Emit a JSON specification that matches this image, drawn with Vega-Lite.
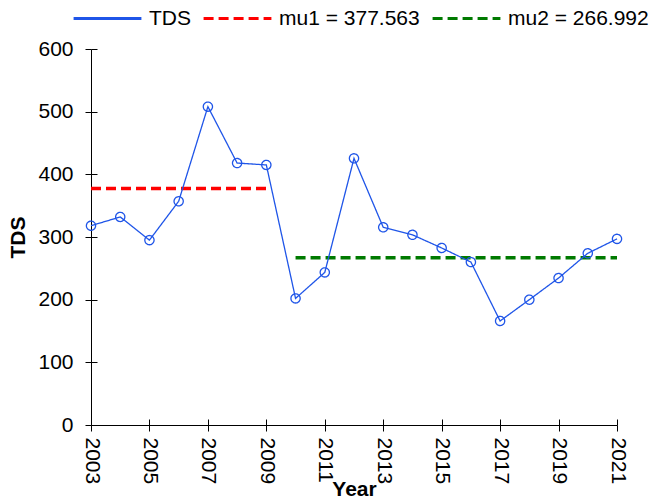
{
  "$schema": "https://vega.github.io/schema/vega-lite/v6.json",
  "width": 526,
  "height": 376,
  "autosize": {"type": "none"},
  "padding": {"left": 91, "top": 49, "right": 32, "bottom": 76},
  "config": {
    "view": {"stroke": null},
    "font": "Liberation Sans",
    "axis": {
      "grid": false,
      "domainColor": "black",
      "tickColor": "black",
      "labelColor": "black",
      "titleColor": "black",
      "labelFontSize": 21,
      "titleFontSize": 21,
      "titleFontWeight": "bold",
      "labelFont": "Liberation Sans",
      "titleFont": "Liberation Sans",
      "tickSize": 6,
      "domainWidth": 1,
      "tickWidth": 1
    },
    "legend": {"labelFont": "Liberation Sans", "labelFontSize": 21, "labelColor": "black"}
  },
  "datasets": {
    "tds": [
      {"Year": 2003, "TDS": 318, "series": "TDS"},
      {"Year": 2004, "TDS": 332, "series": "TDS"},
      {"Year": 2005, "TDS": 295, "series": "TDS"},
      {"Year": 2006, "TDS": 357, "series": "TDS"},
      {"Year": 2007, "TDS": 508, "series": "TDS"},
      {"Year": 2008, "TDS": 418, "series": "TDS"},
      {"Year": 2009, "TDS": 415, "series": "TDS"},
      {"Year": 2010, "TDS": 202, "series": "TDS"},
      {"Year": 2011, "TDS": 243.5, "series": "TDS"},
      {"Year": 2012, "TDS": 425.5, "series": "TDS"},
      {"Year": 2013, "TDS": 315.5, "series": "TDS"},
      {"Year": 2014, "TDS": 303.5, "series": "TDS"},
      {"Year": 2015, "TDS": 282.5, "series": "TDS"},
      {"Year": 2016, "TDS": 260, "series": "TDS"},
      {"Year": 2017, "TDS": 166, "series": "TDS"},
      {"Year": 2018, "TDS": 200, "series": "TDS"},
      {"Year": 2019, "TDS": 234.5, "series": "TDS"},
      {"Year": 2020, "TDS": 274, "series": "TDS"},
      {"Year": 2021, "TDS": 297, "series": "TDS"}
    ],
    "mu": [
      {"Year": 2003, "TDS": 377.563, "series": "mu1 = 377.563"},
      {"Year": 2009, "TDS": 377.563, "series": "mu1 = 377.563"},
      {"Year": 2010, "TDS": 266.992, "series": "mu2 = 266.992"},
      {"Year": 2021, "TDS": 266.992, "series": "mu2 = 266.992"}
    ]
  },
  "layer": [
    {
      "data": {"name": "mu"},
      "mark": {"type": "line", "strokeWidth": 3.5},
      "encoding": {
        "x": {"field": "Year", "type": "quantitative", "scale": {"domain": [2003, 2021], "nice": false, "zero": false},
          "axis": {"values": [2003, 2005, 2007, 2009, 2011, 2013, 2015, 2017, 2019, 2021], "labels": false, "domain": false, "title": null, "tickSize": -6, "orient": "bottom"}},
        "y": {"field": "TDS", "type": "quantitative", "scale": {"domain": [0, 600], "nice": false},
          "axis": {"values": [0, 100, 200, 300, 400, 500, 600], "labels": false, "domain": false, "title": null, "tickSize": -6, "orient": "left"}},
        "color": {"field": "series", "type": "nominal",
          "scale": {"domain": ["TDS", "mu1 = 377.563", "mu2 = 266.992"], "range": ["#1f55e8", "#ff0000", "#007a00"]},
          "legend": {"title": null, "orient": "none", "legendX": -19, "legendY": -66, "direction": "horizontal", "gridAlign": "none", "symbolType": "stroke", "symbolSize": 4600, "symbolStrokeWidth": 3, "labelOffset": 6, "columnPadding": 6}},
        "strokeDash": {"field": "series", "type": "nominal",
          "scale": {"domain": ["TDS", "mu1 = 377.563", "mu2 = 266.992"], "range": [[1, 0], [10, 5], [10, 5]]},
          "legend": {"title": null, "orient": "none", "legendX": -19, "legendY": -66, "direction": "horizontal", "gridAlign": "none", "symbolType": "stroke", "symbolSize": 4600, "symbolStrokeWidth": 3, "labelOffset": 6, "columnPadding": 6}},
        "detail": {"field": "series"}
      }
    },
    {
      "data": {"name": "tds"},
      "mark": {"type": "line", "strokeWidth": 1.3, "point": {"filled": false, "size": 85, "strokeWidth": 1.3}},
      "encoding": {
        "x": {"field": "Year", "type": "quantitative",
          "axis": {"values": [2003, 2005, 2007, 2009, 2011, 2013, 2015, 2017, 2019, 2021], "format": "d", "labelAngle": 90, "labelAlign": "left", "labelBaseline": "middle", "labelPadding": 6, "title": "Year", "titleY": 64, "titleBaseline": "middle", "orient": "bottom"}},
        "y": {"field": "TDS", "type": "quantitative",
          "axis": {"values": [0, 100, 200, 300, 400, 500, 600], "labelPadding": 12, "title": "TDS", "titleX": -73, "titleBaseline": "middle", "orient": "left"}},
        "color": {"field": "series", "type": "nominal"},
        "strokeDash": {"field": "series", "type": "nominal"}
      }
    }
  ],
  "resolve": {"axis": {"x": "independent", "y": "independent"}}
}
